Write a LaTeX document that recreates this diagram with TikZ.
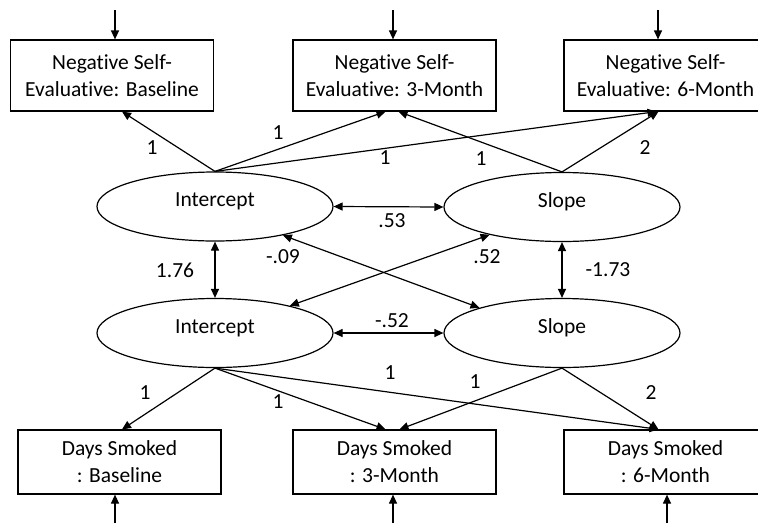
\documentclass[tikz,border=0pt]{standalone}
\usepackage{fontspec}
\setmainfont{Carlito}[Ligatures={NoCommon}]
\usetikzlibrary{arrows.meta,shapes.geometric,calc}
\begin{document}
\begin{tikzpicture}[x=1pt,y=-1pt,
  >={Triangle[length=9pt,width=8pt]}, line width=1.2pt,
  every node/.style={font=\fontsize{21.5}{27}\selectfont},
  obs/.style={draw, rectangle, minimum width=203pt, align=center, inner sep=0pt},
  lat/.style={draw, ellipse, minimum width=236pt, minimum height=69pt, inner sep=0pt, text height=14pt, text depth=14pt},
  lab/.style={inner sep=0pt}]
\useasboundingbox (0,0) rectangle (758,523);
% observed indicators (top)
\node[obs, minimum height=71pt] (n1) at (112,75.5) {Negative Self-\\Evaluative: Baseline};
\node[obs, minimum height=71pt] (n2) at (394.5,75.5) {Negative Self-\\Evaluative: 3-Month};
\node[obs, minimum height=71pt] (n3) at (665.5,75.5) {Negative Self-\\Evaluative: 6-Month};
% latent factors
\node[lat] (i1) at (215,206.5) {Intercept};
\node[lat] (s1) at (562,207) {Slope};
\node[lat] (i2) at (215,333) {Intercept};
\node[lat] (s2) at (562,333) {Slope};
% observed indicators (bottom)
\node[obs, minimum height=64pt] (d1) at (119.5,462) {Days Smoked\\: Baseline};
\node[obs, minimum height=64pt] (d2) at (394.5,462) {Days Smoked\\: 3-Month};
\node[obs, minimum height=64pt] (d3) at (665.5,462) {Days Smoked\\: 6-Month};
% error arrows
\coordinate (e1) at (115,10);
\coordinate (e2) at (393,10);
\coordinate (e3) at (658,10);
\coordinate (f1) at (115,523);
\coordinate (f2) at (393,523);
\coordinate (f3) at (667,523);
\draw[->] (e1) -- (e1 |- n1.north);
\draw[->] (e2) -- (e2 |- n2.north);
\draw[->] (e3) -- (e3 |- n3.north);
\draw[->] (f1) -- (f1 |- d1.south);
\draw[->] (f2) -- (f2 |- d2.south);
\draw[->] (f3) -- (f3 |- d3.south);
% top loadings
\draw[->] (i1.north) -- ($(n1.south)+(10,0)$);
\draw[->] (i1.north) -- ($(n2.south)+(-9,0)$);
\draw[->] (i1.north) -- ($(n3.south)+(-9,0)$);
\draw[->] (s1.north) -- ($(n2.south)+(4,0)$);
\draw[->] (s1.north) -- ($(n3.south)+(-7,0)$);
% bottom loadings
\draw[->] (i2.south) -- ($(d1.north)+(2.5,0)$);
\draw[->] (i2.south) -- ($(d2.north)+(-9,0)$);
\draw[->] (i2.south) -- ($(d3.north)+(-7,0)$);
\draw[->] (s2.south) -- ($(d2.north)+(5,0)$);
\draw[->] (s2.south) -- ($(d3.north)+(-7,0)$);
% covariances
\draw[<->] (i1.east) -- (s1.west);
\draw[<->] (i2.east) -- (s2.west);
\draw[<->] (i1.south) -- (i2.north);
\draw[<->] (s1.south) -- (s2.north);
\draw[<->] (i1.-23) -- (s2.163);
\draw[<->] (s1.-159) -- (i2.20);
% labels
\node[lab] (la1) at (152,148) {1};
\node[lab] (la2) at (278,133) {1};
\node[lab] (la3) at (385,158) {1};
\node[lab] (la4) at (481,159) {1};
\node[lab] (la5) at (645,148) {2};
\node[lab] (lc1) at (392,221) {.53};
\node[lab] (lc2) at (175,270) {1.76};
\node[lab] (lc3) at (283,257) {-.09};
\node[lab] (lc4) at (487,257) {.52};
\node[lab] (lc5) at (608,270) {-1.73};
\node[lab] (lc6) at (392,321) {-.52};
\node[lab] (lb1) at (145,393) {1};
\node[lab] (lb2) at (278,402) {1};
\node[lab] (lb3) at (390,373) {1};
\node[lab] (lb4) at (475,382) {1};
\node[lab] (lb5) at (651,393) {2};
\end{tikzpicture}
\end{document}
